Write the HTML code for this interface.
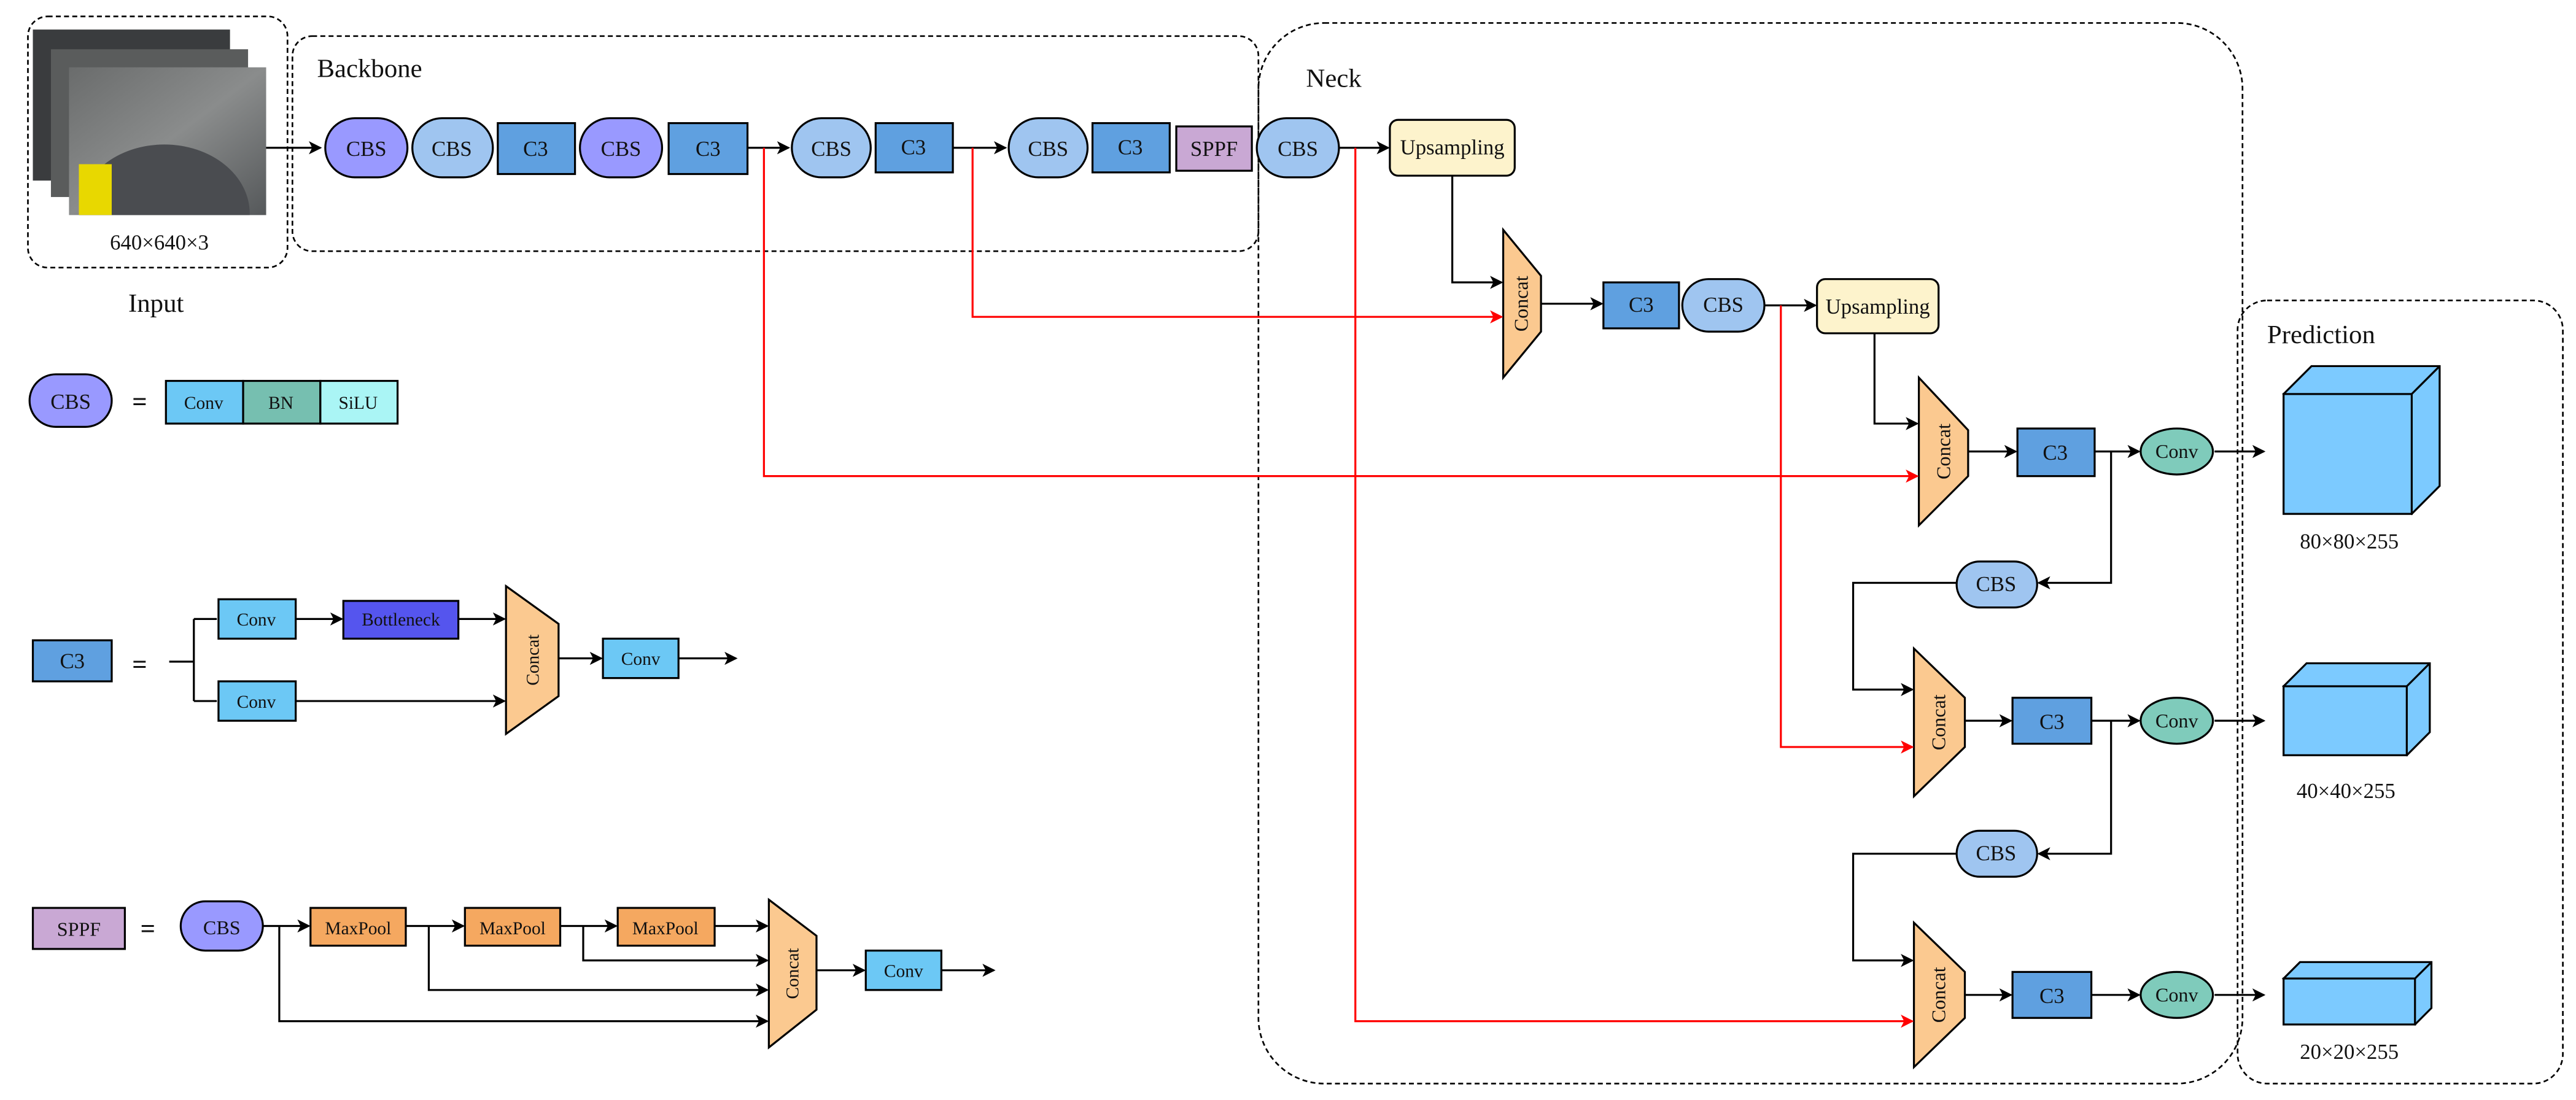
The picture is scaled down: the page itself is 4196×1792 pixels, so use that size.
<!DOCTYPE html>
<html><head><meta charset="utf-8"><style>
html,body{margin:0;padding:0;background:#fff;}
svg{display:block;}
svg text{font-family:"Liberation Serif","DejaVu Serif",serif;fill:#111;}
</style></head><body>
<svg width="4196" height="1792" viewBox="0 0 1568 670" preserveAspectRatio="none" xmlns="http://www.w3.org/2000/svg" font-family="Liberation Serif, DejaVu Serif, serif">
<defs>
<marker id="ab" markerWidth="8" markerHeight="8" refX="7" refY="4" orient="auto" markerUnits="userSpaceOnUse"><path d="M0,0 L8,4 L0,8 L2,4 z" fill="#000"/></marker>
<marker id="ar" markerWidth="8" markerHeight="8" refX="7" refY="4" orient="auto" markerUnits="userSpaceOnUse"><path d="M0,0 L8,4 L0,8 L2,4 z" fill="#f00"/></marker>
<linearGradient id="tire" x1="0" y1="0" x2="1" y2="1"><stop offset="0" stop-color="#6a6c6c"/><stop offset="0.5" stop-color="#8a8c8c"/><stop offset="1" stop-color="#55585a"/></linearGradient>
<clipPath id="cp"><rect x="42" y="41" width="120" height="90"/></clipPath>
</defs>
<g fill="none" stroke="#000" stroke-width="1" stroke-dasharray="3,2">
<rect x="17" y="10" width="158" height="153" rx="12"/>
<rect x="178" y="22" width="588" height="131" rx="12"/>
<rect x="766" y="14" width="599" height="646" rx="40"/>
<rect x="1362" y="183" width="198" height="477" rx="18"/>
</g>
<!-- input images -->
<rect x="20" y="18" width="120" height="92" fill="#3a3c3e"/>
<rect x="31" y="30" width="120" height="90" fill="#5a5c5c"/>
<rect x="42" y="41" width="120" height="90" fill="url(#tire)"/>
<g clip-path="url(#cp)">
<ellipse cx="100" cy="130" rx="52" ry="42" fill="#4a4c50"/>
<rect x="48" y="100" width="20" height="31" fill="#e8d800"/>
</g>
<text x="97" y="152" font-size="13" text-anchor="middle">640×640×3</text>
<text x="95" y="190" font-size="16" text-anchor="middle">Input</text>
<text x="193" y="47" font-size="16">Backbone</text>
<text x="795" y="53" font-size="16">Neck</text>
<text x="1380" y="209" font-size="16">Prediction</text>
<g stroke="#000" stroke-width="1.2">
<rect x="198" y="72" width="50" height="36" rx="18" fill="#9999ff"/>
<rect x="251" y="72" width="49" height="36" rx="18" fill="#9fc5f0"/>
<rect x="303" y="75" width="47" height="31" fill="#5fa0e0"/>
<rect x="353" y="72" width="50" height="36" rx="18" fill="#9999ff"/>
<rect x="407" y="75" width="48" height="31" fill="#5fa0e0"/>
<rect x="482" y="72" width="48" height="36" rx="18" fill="#9fc5f0"/>
<rect x="533" y="75" width="47" height="30" fill="#5fa0e0"/>
<rect x="614" y="72" width="48" height="36" rx="18" fill="#9fc5f0"/>
<rect x="665" y="75" width="47" height="30" fill="#5fa0e0"/>
<rect x="716" y="77" width="46" height="27" fill="#c9a8d4"/>
<rect x="765" y="72" width="50" height="36" rx="18" fill="#9fc5f0"/>
<rect x="846" y="73" width="76" height="34" rx="5" fill="#fdf3cc"/>
<path d="M915,140 L938,168 L938,202 L915,230 Z" fill="#fbc990"/>
<rect x="976" y="172" width="46" height="28" fill="#5fa0e0"/>
<rect x="1024" y="170" width="50" height="32" rx="16" fill="#9fc5f0"/>
<rect x="1106" y="170" width="74" height="33" rx="5" fill="#fdf3cc"/>
<path d="M1168,230 L1198,262 L1198,290 L1168,320 Z" fill="#fbc990"/>
<rect x="1228" y="261" width="47" height="29" fill="#5fa0e0"/>
<ellipse cx="1325" cy="275" rx="22" ry="14" fill="#7fcbbb"/>
<rect x="1191" y="342" width="49" height="28" rx="14" fill="#9fc5f0"/>
<path d="M1165,395 L1196,425 L1196,455 L1165,485 Z" fill="#fbc990"/>
<rect x="1225" y="425" width="48" height="28" fill="#5fa0e0"/>
<ellipse cx="1325" cy="439" rx="22" ry="14" fill="#7fcbbb"/>
<rect x="1191" y="506" width="49" height="28" rx="14" fill="#9fc5f0"/>
<path d="M1165,562 L1196,592 L1196,620 L1165,650 Z" fill="#fbc990"/>
<rect x="1225" y="592" width="48" height="28" fill="#5fa0e0"/>
<ellipse cx="1325" cy="606" rx="22" ry="14" fill="#7fcbbb"/>
<path d="M1390,240 L1407,223 L1485,223 L1485,296 L1468,313 Z" fill="#7ccaff"/>
<rect x="1390" y="240" width="78" height="73" fill="#7ccaff"/>
<path d="M1468,240 L1485,223" fill="none"/>
<path d="M1390,418 L1404,404 L1479,404 L1479,446 L1465,460 Z" fill="#7ccaff"/>
<rect x="1390" y="418" width="75" height="42" fill="#7ccaff"/>
<path d="M1465,418 L1479,404" fill="none"/>
<path d="M1390,596 L1400,586 L1480,586 L1480,614 L1470,624 Z" fill="#7ccaff"/>
<rect x="1390" y="596" width="80" height="28" fill="#7ccaff"/>
<path d="M1470,596 L1480,586" fill="none"/>
<rect x="18" y="228" width="50" height="32" rx="16" fill="#9999ff"/>
<rect x="101" y="232" width="47" height="26" fill="#6cc8f5"/>
<rect x="148" y="232" width="47" height="26" fill="#76bfb0"/>
<rect x="195" y="232" width="47" height="26" fill="#aaf5f5"/>
<rect x="20" y="390" width="48" height="25" fill="#5fa0e0"/>
<rect x="133" y="365" width="47" height="24" fill="#6cc8f5"/>
<rect x="209" y="366" width="70" height="23" fill="#5555ee"/>
<rect x="133" y="415" width="47" height="24" fill="#6cc8f5"/>
<path d="M308,357 L340,380 L340,424 L308,447 Z" fill="#fbc990"/>
<rect x="367" y="389" width="46" height="24" fill="#6cc8f5"/>
<rect x="20" y="553" width="56" height="25" fill="#c9a8d4"/>
<rect x="110" y="549" width="50" height="30" rx="15" fill="#9999ff"/>
<rect x="189" y="553" width="58" height="23" fill="#f5a860"/>
<rect x="283" y="553" width="58" height="23" fill="#f5a860"/>
<rect x="376" y="553" width="59" height="23" fill="#f5a860"/>
<path d="M468,548 L497,570 L497,615 L468,638 Z" fill="#fbc990"/>
<rect x="527" y="579" width="46" height="24" fill="#6cc8f5"/>
</g>
<g stroke="#000" stroke-width="1.2" fill="none" marker-end="url(#ab)">
<line x1="162" y1="90" x2="195" y2="90"/>
<line x1="455" y1="90" x2="480" y2="90"/>
<line x1="580" y1="90" x2="612" y2="90"/>
<line x1="815" y1="90" x2="845" y2="90"/>
<path d="M884,107 V172 H914"/>
<line x1="938" y1="185" x2="975" y2="185"/>
<line x1="1074" y1="186" x2="1105" y2="186"/>
<path d="M1141,203 V258 H1167"/>
<line x1="1198" y1="275" x2="1227" y2="275"/>
<line x1="1275" y1="275" x2="1302" y2="275"/>
<line x1="1348" y1="275" x2="1378" y2="275"/>
<path d="M1285,275 V355 H1241"/>
<path d="M1191,355 H1128 V420 H1164"/>
<line x1="1196" y1="439" x2="1224" y2="439"/>
<line x1="1273" y1="439" x2="1302" y2="439"/>
<line x1="1348" y1="439" x2="1378" y2="439"/>
<path d="M1285,439 V520 H1241"/>
<path d="M1191,520 H1128 V585 H1164"/>
<line x1="1196" y1="606" x2="1224" y2="606"/>
<line x1="1273" y1="606" x2="1302" y2="606"/>
<line x1="1348" y1="606" x2="1378" y2="606"/>
<path d="M103,403 H118 M118,377 V427" marker-end="none"/>
<line x1="118" y1="377" x2="132" y2="377" marker-end="none"/>
<line x1="118" y1="427" x2="132" y2="427" marker-end="none"/>
<line x1="180" y1="377" x2="208" y2="377"/>
<line x1="279" y1="377" x2="307" y2="377"/>
<line x1="180" y1="427" x2="307" y2="427"/>
<line x1="340" y1="401" x2="366" y2="401"/>
<line x1="413" y1="401" x2="448" y2="401"/>
<line x1="160" y1="564" x2="188" y2="564"/>
<line x1="247" y1="564" x2="282" y2="564"/>
<line x1="341" y1="564" x2="375" y2="564"/>
<line x1="435" y1="564" x2="467" y2="564"/>
<path d="M355,564 V585 H467"/>
<path d="M261,564 V603 H467"/>
<path d="M170,564 V622 H467"/>
<line x1="497" y1="591" x2="526" y2="591"/>
<line x1="573" y1="591" x2="605" y2="591"/>
</g>
<g stroke="#f00" stroke-width="1.2" fill="none" marker-end="url(#ar)">
<path d="M592,90 V193 H914"/>
<path d="M465,90 V290 H1167"/>
<path d="M1084,186 V455 H1164"/>
<path d="M825,90 V622 H1164"/>
</g>
<g font-size="13" text-anchor="middle">
<text x="223" y="95">CBS</text><text x="275" y="95">CBS</text><text x="326" y="95">C3</text>
<text x="378" y="95">CBS</text><text x="431" y="95">C3</text><text x="506" y="95">CBS</text>
<text x="556" y="94">C3</text><text x="638" y="95">CBS</text><text x="688" y="94">C3</text>
<text x="739" y="95">SPPF</text><text x="790" y="95">CBS</text><text x="884" y="94">Upsampling</text>
<text x="999" y="190">C3</text><text x="1049" y="190">CBS</text><text x="1143" y="191">Upsampling</text>
<text x="1251" y="280">C3</text><text x="1325" y="279" font-size="12">Conv</text>
<text x="1215" y="360">CBS</text><text x="1249" y="444">C3</text><text x="1325" y="443" font-size="12">Conv</text>
<text x="1215" y="524">CBS</text><text x="1249" y="611">C3</text><text x="1325" y="610" font-size="12">Conv</text>
<text x="1430" y="334">80×80×255</text><text x="1428" y="486">40×40×255</text><text x="1430" y="645">20×20×255</text>
<text x="43" y="249">CBS</text><text x="124" y="249" font-size="11">Conv</text><text x="171" y="249" font-size="11">BN</text><text x="218" y="249" font-size="11">SiLU</text>
<text x="44" y="407">C3</text><text x="156" y="381" font-size="11">Conv</text><text x="244" y="381" font-size="11">Bottleneck</text>
<text x="156" y="431" font-size="11">Conv</text><text x="390" y="405" font-size="11">Conv</text>
<text x="48" y="570" font-size="12">SPPF</text><text x="135" y="569" font-size="12">CBS</text>
<text x="218" y="569" font-size="11">MaxPool</text><text x="312" y="569" font-size="11">MaxPool</text><text x="405" y="569" font-size="11">MaxPool</text>
<text x="550" y="595" font-size="11">Conv</text>
<text x="85" y="250" font-size="16" font-weight="bold">=</text>
<text x="85" y="410" font-size="16" font-weight="bold">=</text>
<text x="90" y="571" font-size="16" font-weight="bold">=</text>
</g>
<g font-size="12" text-anchor="middle">
<text transform="translate(930,185) rotate(-90)">Concat</text>
<text transform="translate(1187,275) rotate(-90)">Concat</text>
<text transform="translate(1184,440) rotate(-90)">Concat</text>
<text transform="translate(1184,606) rotate(-90)">Concat</text>
<text transform="translate(328,402) rotate(-90)" font-size="11">Concat</text>
<text transform="translate(486,593) rotate(-90)" font-size="11">Concat</text>
</g>
</svg>
</body></html>
